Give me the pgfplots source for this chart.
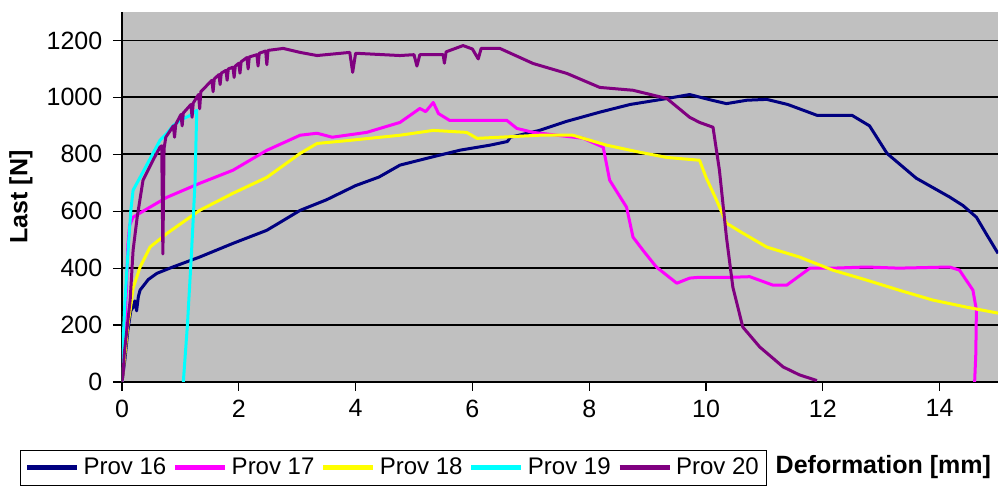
\documentclass[border=0pt]{standalone}
\usepackage{fontspec}
\setmainfont{Liberation Sans}
\usepackage{pgfplots}
\pgfplotsset{compat=1.18}
\definecolor{bggray}{RGB}{192,192,192}
\definecolor{c16}{RGB}{0,0,128}
\definecolor{c17}{RGB}{255,0,255}
\definecolor{c18}{RGB}{255,255,0}
\definecolor{c19}{RGB}{0,255,255}
\definecolor{c20}{RGB}{128,0,128}
\begin{document}
\fontsize{12.5}{14}\selectfont
\begin{tikzpicture}
\path[use as bounding box] (-61pt,-54pt) rectangle (439pt,191pt);
\begin{axis}[
  scale only axis, width=438pt, height=185pt,
  xmin=0, xmax=15, ymin=0, ymax=1300,
  axis background/.style={fill=bggray},
  axis x line*=bottom, axis y line*=left,
  axis line style={black, line width=0.8pt},
  xtick={0,2,...,14}, ytick={0,200,...,1200},
  tick align=outside, major tick length=4.5pt,
  tick style={black, line width=0.6pt},
  ymajorgrids, major grid style={black, line width=0.9pt},
  /pgf/number format/1000 sep={},
  /pgf/number format/assume math mode=true,
  ticklabel style={font=\fontsize{12.5}{14}\selectfont},
  yticklabel style={xshift=-1pt},
  xlabel={Deformation [mm]},
  xlabel style={at={(axis description cs:0.7363,-0.2297)}, anchor=west, font=\fontsize{12.5}{14}\selectfont\bfseries},
  ylabel={Last [N]},
  ylabel style={at={(axis description cs:-0.1153,0.5)}, anchor=center, font=\fontsize{12.5}{14}\selectfont\bfseries},
  legend columns=5,
  legend style={at={(axis description cs:-0.1164,-0.1838)}, anchor=north west, draw=black, line width=0.6pt, fill=white,
    font=\fontsize{12}{14}\selectfont, inner xsep=2pt, inner ysep=1.5pt,
    /tikz/every even column/.append style={column sep=1.2pt}},
  legend image code/.code={\draw[#1, line width=2.5pt] (0pt,0pt) -- (25pt,0pt);},
  every axis plot/.append style={line width=1.5pt, line join=round},
]
\addplot[c16] coordinates {
(0,0) (0.05,80) (0.1,180) (0.15,250) (0.19,263) (0.22,285) (0.25,250) (0.28,300) (0.31,323) (0.45,360) (0.6,382) (0.87,404) (1.33,439) (1.9,487) (2.48,533) (3.05,603) (3.5,640) (4.0,690) (4.4,720) (4.76,762) (5.3,790) (5.8,815) (6.3,832) (6.6,845) (6.65,860) (7.15,884) (7.6,915) (8.18,948) (8.7,975) (9.33,996) (9.72,1010) (9.89,1001) (10.1,990) (10.35,978) (10.7,990) (11.04,993) (11.4,975) (11.9,937) (12.5,937) (12.8,900) (13.1,803) (13.6,716) (14.17,650) (14.4,620) (14.63,579) (14.8,520) (15,452)
};
\addlegendentry{Prov 16}
\addplot[c17] coordinates {
(0,0) (0.02,100) (0.05,200) (0.08,350) (0.1,480) (0.13,550) (0.19,579) (0.36,600) (0.77,649) (1.33,698) (1.9,744) (2.48,814) (3.05,867) (3.34,874) (3.6,860) (4.19,877) (4.76,912) (5.1,961) (5.2,950) (5.33,982) (5.42,943) (5.61,919) (6.59,919) (6.76,891) (7.04,877) (7.9,856) (8.24,825) (8.35,709) (8.64,614) (8.75,509) (8.92,463) (9.15,404) (9.5,347) (9.72,365) (9.89,368) (10.46,368) (10.75,370) (11.15,340) (11.38,340) (11.78,400) (12.17,400) (12.75,404) (13.3,400) (14.17,404) (14.34,393) (14.57,323) (14.63,253) (14.62,100) (14.6,0)
};
\addlegendentry{Prov 17}
\addplot[c18] coordinates {
(0,0) (0.05,100) (0.1,200) (0.14,253) (0.19,330) (0.31,404) (0.48,474) (0.77,522) (1.33,603) (1.9,663) (2.48,719) (3.05,803) (3.34,838) (3.9,849) (4.76,867) (5.33,884) (5.9,877) (6.08,856) (6.47,860) (7.15,867) (7.72,867) (8.3,832) (8.87,807) (9.33,789) (9.89,779) (10.0,719) (10.18,639) (10.35,558) (10.63,523) (11.04,474) (11.6,439) (12.17,393) (12.75,358) (13.3,323) (13.88,288) (14.46,263) (15,242)
};
\addlegendentry{Prov 18}
\addplot[c19] coordinates {
(0,0) (0.02,150) (0.05,280) (0.1,450) (0.15,600) (0.19,674) (0.31,719) (0.53,803) (0.65,849) (0.77,874) (0.87,900) (1.0,920) (1.15,935) (1.28,954) (1.25,700) (1.19,453) (1.12,200) (1.05,0)
};
\addlegendentry{Prov 19}
\addplot[c20] coordinates {
(0,0) (0.02,32) (0.04,102) (0.14,288) (0.19,463) (0.26,579) (0.36,709) (0.53,779) (0.65,825) (0.68,830) (0.7,450) (0.72,820) (0.75,860) (0.88,900) (0.9,860) (0.92,905) (1.01,940) (1.03,900) (1.05,945) (1.18,975) (1.2,930) (1.22,980) (1.31,1010) (1.33,960) (1.35,1020) (1.54,1060) (1.56,1020) (1.58,1065) (1.66,1080) (1.68,1045) (1.7,1085) (1.78,1095) (1.8,1060) (1.82,1100) (1.9,1106) (1.92,1070) (1.94,1110) (2.0,1120) (2.02,1085) (2.04,1125) (2.14,1140) (2.16,1100) (2.18,1142) (2.31,1150) (2.33,1110) (2.35,1155) (2.46,1163) (2.48,1115) (2.5,1165) (2.76,1172) (3.05,1158) (3.34,1147) (3.9,1158) (3.95,1088) (4.0,1155) (4.76,1147) (5.0,1150) (5.05,1110) (5.1,1150) (5.5,1150) (5.52,1120) (5.55,1160) (5.84,1182) (6.0,1170) (6.1,1135) (6.15,1172) (6.47,1172) (7.04,1119) (7.62,1084) (8.18,1035) (8.75,1025) (9.33,996) (9.72,930) (9.89,912) (10.12,895) (10.23,744) (10.35,509) (10.46,333) (10.63,193) (10.92,123) (11.32,53) (11.6,25) (11.9,5)
};
\addlegendentry{Prov 20}
\end{axis}
\end{tikzpicture}
\end{document}
